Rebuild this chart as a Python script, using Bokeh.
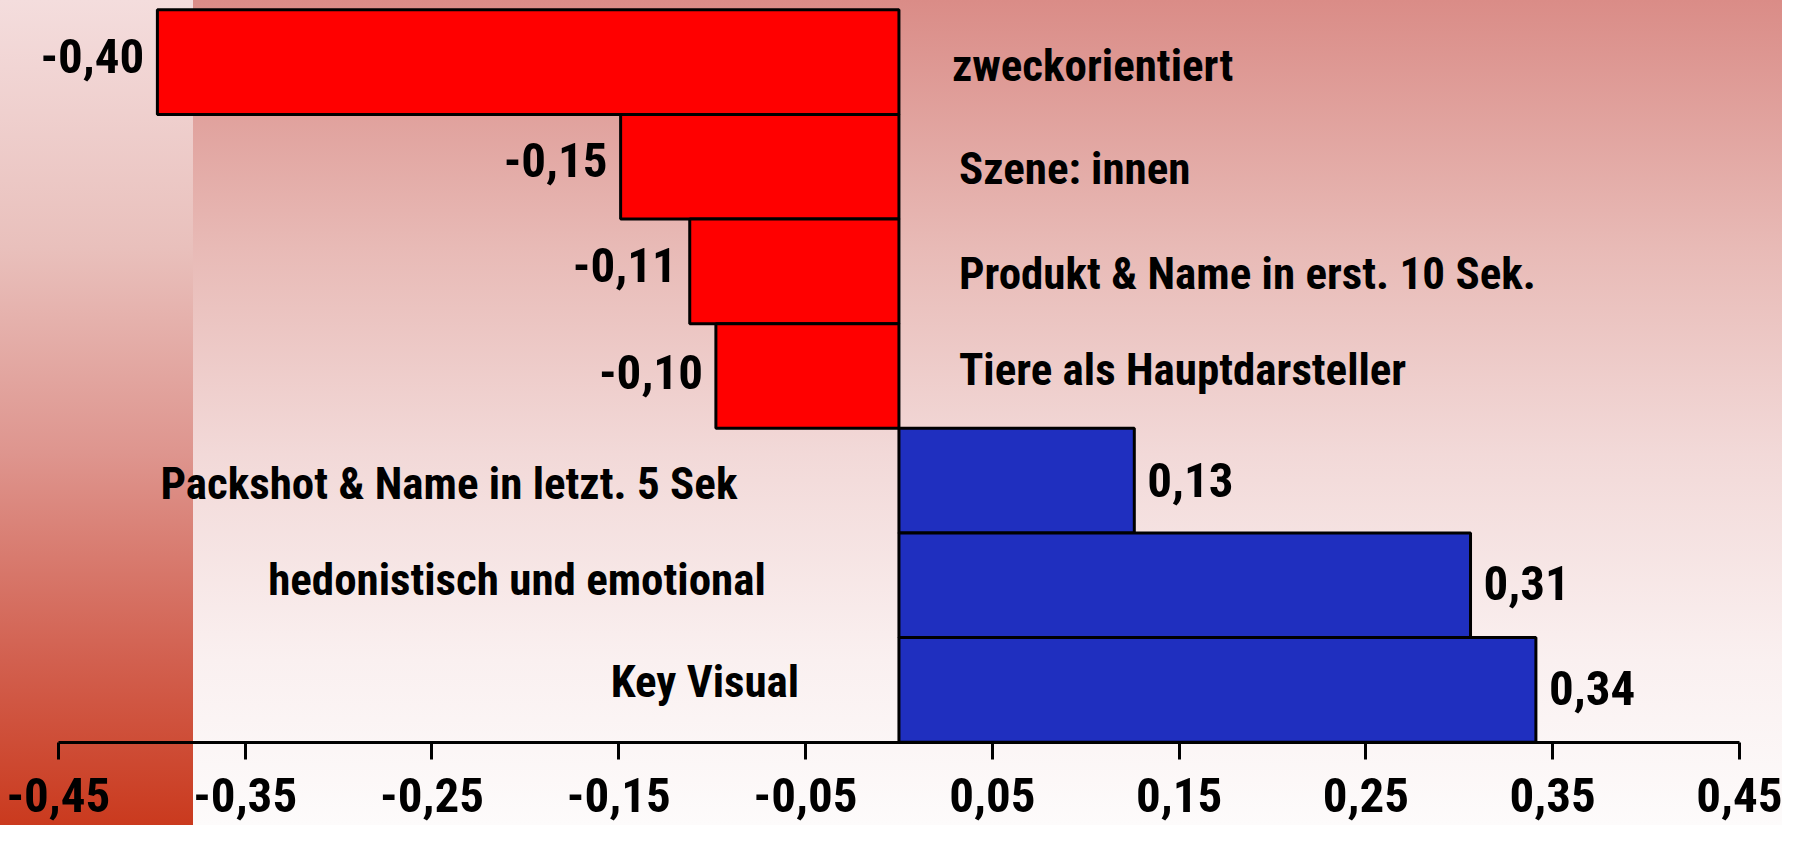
from bokeh.plotting import figure
from bokeh.models import Range1d, FixedTicker, ColumnDataSource
from bokeh.core.properties import value
from bokeh.embed import file_html
from bokeh.resources import INLINE

# ---------------- data ----------------
categories = [
    "zweckorientiert",
    "Szene: innen",
    "Produkt & Name in erst. 10 Sek.",
    "Tiere als Hauptdarsteller",
    "Packshot & Name in letzt. 5 Sek",
    "hedonistisch und emotional",
    "Key Visual",
]
values = [-0.397, -0.149, -0.112, -0.098, 0.126, 0.306, 0.341]
value_labels = ["-0,40", "-0,15", "-0,11", "-0,10", "0,13", "0,31", "0,34"]
tick_values = [-0.45, -0.35, -0.25, -0.15, -0.05, 0.05, 0.15, 0.25, 0.35, 0.45]
tick_labels = ["-0,45", "-0,35", "-0,25", "-0,15", "-0,05",
               "0,05", "0,15", "0,25", "0,35", "0,45"]

# ---------------- style / layout ----------------
FONT = "Roboto Condensed"
RED = "#FF0000"
BLUE = "#1F2FBF"
cat_x_off = [53, 60, 60, 60, -450, -382, -194]
cat_y_off = [3, 2, 2, -7, 3, -6, -8]
val_y_off = [-6, -7, -6, -4, -1, -2, -2]

n = len(categories)
ypos = [n - 0.5 - i for i in range(n)]
colors = [RED if v < 0 else BLUE for v in values]

p = figure(width=1782, height=825, output_backend="svg", toolbar_location=None,
           x_range=Range1d(-0.48099, 0.47302), y_range=Range1d(-0.7961, 7.0889),
           y_axis_location=None, min_border=0)
p.background_fill_color = None
p.border_fill_color = None
p.outline_line_color = None
p.grid.visible = False
p.styles = {
    "background": (
        "linear-gradient(to bottom, #F4DDDD 0%, #E9C0BC 30%, #DE958E 55%, "
        "#D2604F 80%, #CA3A1E 100%) 0 0 / 193px 100% no-repeat, "
        "linear-gradient(to bottom, #DA8C87 0%, #E8BAB6 30%, #F2D9D8 55%, "
        "#FAF0F0 80%, #FDFBFB 100%)"
    )
}

src = ColumnDataSource(dict(y=ypos, v=values, c=colors, cat=categories,
                            lab=value_labels, cxo=cat_x_off, cyo=cat_y_off,
                            vyo=val_y_off, zero=[0] * n))

p.hbar(y="y", left=0, right="v", height=1.0, fill_color="c",
       line_color="black", line_width=3, source=src)

neg = [i for i in range(n) if values[i] < 0]
pos = [i for i in range(n) if values[i] >= 0]


def sub(idx):
    return ColumnDataSource({k: [src.data[k][i] for i in idx] for k in src.data})


sneg, spos = sub(neg), sub(pos)

common = dict(text_baseline="middle", text_font=value(FONT),
              text_font_style="bold", text_color="black")

# value labels
p.text(x="v", y="y", text="lab", source=sneg, x_offset=-13, y_offset="vyo",
       text_align="right", text_font_size="49px", **common)
p.text(x="v", y="y", text="lab", source=spos, x_offset=13, y_offset="vyo",
       text_align="left", text_font_size="49px", **common)

# category labels
p.text(x="zero", y="y", text="cat", source=sneg, x_offset="cxo", y_offset="cyo",
       text_align="left", text_font_size="45px", **common)
p.text(x="zero", y="y", text="cat", source=spos, x_offset="cxo", y_offset="cyo",
       text_align="center", text_font_size="45px", **common)

ax = p.xaxis[0]
ax.fixed_location = 0
ax.bounds = (-0.45, 0.45)
ax.ticker = FixedTicker(ticks=tick_values)
ax.major_label_overrides = dict(zip(tick_values, tick_labels))
ax.axis_line_width = 3
ax.axis_line_color = "black"
ax.major_tick_out = 17
ax.major_tick_in = 0
ax.major_tick_line_width = 3
ax.major_tick_line_color = "black"
ax.minor_tick_out = 0
ax.minor_tick_in = 0
ax.major_label_standoff = 19
ax.major_label_text_font = FONT
ax.major_label_text_font_style = "bold"
ax.major_label_text_font_size = "49px"
ax.major_label_text_color = "black"

open("out.html", "w").write(file_html(p, INLINE))
